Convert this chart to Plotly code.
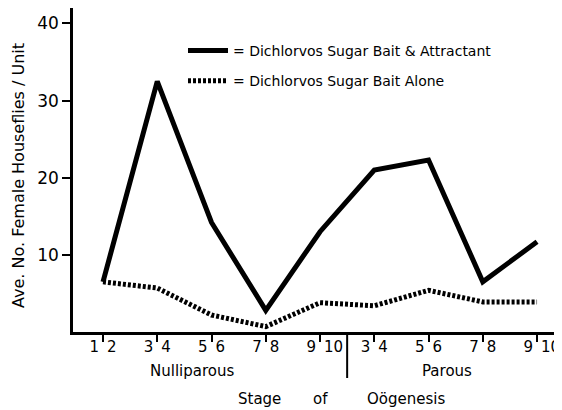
import plotly.graph_objects as go

stages = ["N 1-2", "N 3-4", "N 5-6", "N 7-8", "N 9-10", "P 3-4", "P 5-6", "P 7-8", "P 9-10"]
GAP = "\u00a0\u2009"
tick_text = ["1" + GAP + "2", "3" + GAP + "4", "5" + GAP + "6", "7" + GAP + "8", "\u20079" + GAP + "10",
             "3" + GAP + "4", "5" + GAP + "6", "7" + GAP + "8", "\u20079" + GAP + "10"]
bait_attractant = [6.5, 32.5, 14.2, 2.8, 13.0, 21.0, 22.3, 6.5, 11.7]
bait_alone = [6.5, 5.7, 2.2, 0.7, 3.8, 3.4, 5.4, 3.9, 3.9]
name_attr = "= Dichlorvos Sugar Bait & Attractant"
name_alone = "= Dichlorvos Sugar Bait Alone"

FONT = "DejaVu Sans"
xs = list(range(len(stages)))

# The page body has an 8px margin, so the figure is drawn at (8, 8) in the window.
OFF = 8
FIG_W, FIG_H = 562, 410 - OFF
L, T, W, H = 73, 8, 489, 324          # plot area in window pixels
def px_x(px):
    return (px - L) / W
def px_y(py):
    return (T + H - py) / H

fig = go.Figure()
fig.add_trace(go.Scatter(x=xs, y=bait_attractant, mode="lines", name=name_attr,
                         line=dict(color="black", width=5), legendgroup="a"))
fig.add_trace(go.Scatter(x=xs, y=bait_alone, mode="lines", name=name_alone,
                         line=dict(color="black", width=5, dash="3px,2px"), legendgroup="b"))

fig.update_layout(
    width=FIG_W, height=FIG_H,
    margin=dict(l=L - OFF, r=FIG_W - (L - OFF) - W, t=T - OFF, b=FIG_H - (T - OFF) - H,
                pad=0, autoexpand=False),
    paper_bgcolor="white", plot_bgcolor="white",
    font=dict(family=FONT, color="black", size=15),
    showlegend=True,
    legend=dict(x=px_x(183), y=px_y(35), xanchor="left", yanchor="top",
                font=dict(size=14, family=FONT), tracegroupgap=9, itemwidth=40,
                bgcolor="rgba(0,0,0,0)"),
    xaxis=dict(range=[-0.553, 8.46], tickvals=xs, ticktext=tick_text, automargin=False,
               showgrid=False, zeroline=False, showline=True, linecolor="black", linewidth=2.5,
               ticks="outside", ticklen=7, tickwidth=2, tickcolor="black",
               ticklabelstandoff=-8,
               tickfont=dict(size=15, family=FONT)),
    yaxis=dict(range=[0, 42], tickvals=[10, 20, 30, 40], automargin=False,
               showgrid=False, zeroline=False, showline=True, linecolor="black", linewidth=2.5,
               ticks="outside", ticklen=8, tickwidth=2, tickcolor="black",
               tickfont=dict(size=17, family=FONT)),
)

def ann(text, px, py, size=15, angle=0):
    fig.add_annotation(text=text, xref="paper", yref="paper", x=px_x(px), y=px_y(py),
                       xanchor="center", yanchor="middle", showarrow=False, textangle=angle,
                       font=dict(size=size, family=FONT, color="black"))

ann("Ave. No. Female Houseflies / Unit", 18, 176, size=16, angle=-90)
ann("Nulliparous", 192, 371, size=15)
ann("Parous", 447, 371, size=15)
ann("Stage", 259, 399, size=15)
ann("of", 320, 399, size=15)
ann("Oögenesis", 406, 399, size=15)

fig.add_shape(type="line", xref="x", yref="paper", x0=4.5, x1=4.5, y0=0, y1=px_y(378),
              line=dict(color="black", width=2))

fig.write_html("out.html")
